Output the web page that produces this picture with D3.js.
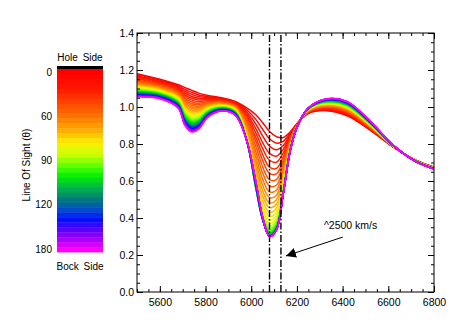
<!DOCTYPE html>
<html><head><meta charset="utf-8">
<script src="https://cdn.jsdelivr.net/npm/d3@7"></script>
<style>body{margin:0;background:#fff}svg{display:block}text{font-family:"Liberation Sans",Arial,sans-serif;fill:#000}</style>
</head><body><svg id="c" width="457" height="326"></svg>
<script>
const wavelengths = [5500,5600,5680,5710,5740,5770,5810,5870,5930,5980,6020,6050,6080,6110,6140,6170,6200,6250,6330,6420,6520,6620,6720,6800];
const angles = [0,5,10,15,20,25,30,35,40,45,50,55,60,65,70,75,80,85,90,95,100,105,110,115,120,125,130,135,140,145,150,155,160,165,170,175,180];
const f000 = [1.180,1.150,1.120,1.105,1.090,1.075,1.062,1.050,1.030,0.995,0.958,0.915,0.868,0.840,0.835,0.865,0.910,0.965,0.980,0.952,0.875,0.785,0.712,0.675];
const f005 = [1.174,1.145,1.114,1.095,1.079,1.065,1.056,1.046,1.026,0.985,0.933,0.879,0.828,0.805,0.814,0.858,0.909,0.967,0.983,0.956,0.878,0.786,0.712,0.675];
const f010 = [1.168,1.140,1.108,1.085,1.068,1.056,1.051,1.043,1.023,0.974,0.908,0.844,0.789,0.769,0.792,0.850,0.907,0.969,0.987,0.960,0.880,0.786,0.711,0.674];
const f015 = [1.162,1.135,1.102,1.075,1.057,1.047,1.045,1.040,1.019,0.964,0.883,0.808,0.749,0.734,0.771,0.843,0.906,0.970,0.989,0.963,0.882,0.786,0.711,0.674];
const f020 = [1.156,1.130,1.096,1.066,1.047,1.038,1.040,1.036,1.016,0.954,0.860,0.775,0.712,0.701,0.751,0.836,0.905,0.972,0.992,0.967,0.885,0.787,0.711,0.673];
const f025 = [1.151,1.125,1.091,1.057,1.037,1.029,1.035,1.033,1.012,0.945,0.836,0.742,0.675,0.668,0.731,0.829,0.903,0.974,0.995,0.970,0.887,0.787,0.710,0.673];
const f030 = [1.145,1.121,1.085,1.048,1.027,1.020,1.029,1.030,1.009,0.936,0.815,0.711,0.641,0.638,0.713,0.823,0.902,0.975,0.998,0.974,0.889,0.788,0.710,0.672];
const f035 = [1.140,1.116,1.080,1.039,1.018,1.013,1.024,1.027,1.006,0.924,0.788,0.677,0.607,0.608,0.695,0.817,0.901,0.977,1.001,0.977,0.891,0.788,0.710,0.672];
const f040 = [1.135,1.112,1.075,1.031,1.009,1.005,1.020,1.024,1.003,0.912,0.760,0.643,0.573,0.577,0.676,0.810,0.900,0.978,1.003,0.980,0.893,0.789,0.709,0.671];
const f045 = [1.130,1.108,1.070,1.023,1.000,0.997,1.015,1.021,1.000,0.900,0.732,0.610,0.541,0.550,0.660,0.805,0.899,0.980,1.006,0.983,0.895,0.789,0.709,0.671];
const f050 = [1.126,1.104,1.066,1.016,0.992,0.990,1.011,1.019,0.997,0.888,0.704,0.577,0.510,0.522,0.643,0.799,0.897,0.981,1.008,0.986,0.897,0.789,0.709,0.671];
const f055 = [1.121,1.101,1.061,1.008,0.984,0.984,1.007,1.016,0.995,0.876,0.679,0.547,0.482,0.497,0.628,0.794,0.896,0.982,1.011,0.989,0.899,0.790,0.709,0.670];
const f060 = [1.117,1.097,1.057,1.001,0.976,0.977,1.003,1.014,0.992,0.865,0.654,0.519,0.456,0.474,0.614,0.789,0.896,0.984,1.013,0.991,0.900,0.790,0.708,0.670];
const f065 = [1.113,1.093,1.053,0.995,0.969,0.970,0.999,1.011,0.990,0.855,0.632,0.492,0.431,0.451,0.600,0.784,0.895,0.985,1.015,0.994,0.902,0.790,0.708,0.670];
const f070 = [1.109,1.090,1.049,0.988,0.962,0.964,0.995,1.009,0.987,0.846,0.612,0.468,0.408,0.431,0.588,0.780,0.894,0.986,1.017,0.997,0.904,0.791,0.708,0.669];
const f075 = [1.105,1.087,1.045,0.982,0.955,0.958,0.992,1.007,0.985,0.839,0.596,0.448,0.388,0.413,0.577,0.776,0.893,0.987,1.019,0.999,0.905,0.791,0.708,0.669];
const f080 = [1.101,1.084,1.041,0.976,0.948,0.952,0.989,1.005,0.983,0.832,0.583,0.431,0.371,0.398,0.568,0.773,0.893,0.988,1.021,1.001,0.907,0.791,0.708,0.669];
const f085 = [1.098,1.081,1.038,0.970,0.942,0.947,0.985,1.003,0.981,0.828,0.574,0.419,0.357,0.386,0.561,0.771,0.892,0.988,1.023,1.004,0.908,0.792,0.707,0.668];
const f090 = [1.094,1.078,1.034,0.965,0.936,0.941,0.982,1.001,0.979,0.825,0.569,0.410,0.345,0.375,0.554,0.768,0.892,0.989,1.025,1.005,0.909,0.792,0.707,0.668];
const f095 = [1.091,1.075,1.031,0.959,0.930,0.937,0.979,0.999,0.977,0.822,0.566,0.403,0.336,0.367,0.549,0.767,0.891,0.990,1.026,1.007,0.911,0.792,0.707,0.668];
const f100 = [1.088,1.073,1.028,0.955,0.925,0.931,0.976,0.997,0.975,0.821,0.564,0.398,0.328,0.360,0.545,0.765,0.891,0.990,1.028,1.009,0.912,0.792,0.707,0.668];
const f105 = [1.085,1.070,1.025,0.949,0.919,0.927,0.974,0.995,0.973,0.820,0.564,0.394,0.322,0.354,0.542,0.764,0.891,0.991,1.029,1.011,0.913,0.793,0.707,0.667];
const f110 = [1.083,1.068,1.023,0.946,0.915,0.923,0.970,0.994,0.972,0.819,0.564,0.392,0.317,0.350,0.539,0.763,0.891,0.991,1.031,1.013,0.914,0.793,0.707,0.667];
const f115 = [1.080,1.066,1.020,0.941,0.910,0.919,0.968,0.992,0.970,0.818,0.566,0.391,0.312,0.346,0.537,0.762,0.890,0.992,1.032,1.014,0.915,0.793,0.706,0.667];
const f120 = [1.078,1.064,1.018,0.937,0.906,0.916,0.966,0.991,0.969,0.819,0.569,0.391,0.309,0.343,0.535,0.762,0.890,0.992,1.033,1.016,0.916,0.793,0.706,0.667];
const f125 = [1.075,1.062,1.015,0.933,0.901,0.911,0.963,0.990,0.967,0.819,0.571,0.391,0.307,0.341,0.534,0.761,0.890,0.992,1.035,1.018,0.917,0.793,0.706,0.667];
const f130 = [1.073,1.060,1.013,0.929,0.897,0.908,0.961,0.988,0.966,0.819,0.575,0.393,0.305,0.340,0.533,0.761,0.890,0.993,1.036,1.019,0.918,0.794,0.706,0.666];
const f135 = [1.071,1.058,1.011,0.926,0.893,0.905,0.960,0.987,0.964,0.819,0.578,0.394,0.303,0.338,0.532,0.761,0.890,0.993,1.037,1.020,0.919,0.794,0.706,0.666];
const f140 = [1.069,1.057,1.009,0.923,0.890,0.901,0.958,0.986,0.963,0.820,0.581,0.395,0.302,0.337,0.531,0.760,0.890,0.993,1.038,1.021,0.920,0.794,0.706,0.666];
const f145 = [1.067,1.055,1.007,0.919,0.886,0.899,0.956,0.985,0.962,0.821,0.585,0.397,0.302,0.337,0.531,0.760,0.890,0.994,1.039,1.023,0.920,0.794,0.706,0.666];
const f150 = [1.065,1.053,1.005,0.916,0.883,0.896,0.954,0.984,0.961,0.821,0.589,0.399,0.301,0.336,0.531,0.760,0.890,0.994,1.040,1.024,0.921,0.794,0.706,0.666];
const f155 = [1.063,1.052,1.003,0.914,0.880,0.892,0.953,0.983,0.960,0.821,0.591,0.400,0.301,0.336,0.530,0.760,0.890,0.994,1.041,1.025,0.922,0.794,0.705,0.666];
const f160 = [1.061,1.050,1.001,0.910,0.876,0.890,0.951,0.982,0.959,0.821,0.594,0.402,0.301,0.336,0.530,0.760,0.890,0.994,1.042,1.026,0.923,0.795,0.705,0.666];
const f165 = [1.060,1.049,1.000,0.908,0.874,0.888,0.950,0.981,0.958,0.821,0.596,0.403,0.300,0.335,0.530,0.760,0.890,0.994,1.043,1.027,0.923,0.795,0.705,0.665];
const f170 = [1.058,1.048,0.998,0.906,0.871,0.885,0.948,0.980,0.957,0.821,0.598,0.404,0.300,0.335,0.530,0.760,0.890,0.995,1.043,1.028,0.924,0.795,0.705,0.665];
const f175 = [1.057,1.046,0.996,0.902,0.868,0.882,0.946,0.979,0.956,0.820,0.599,0.405,0.300,0.335,0.530,0.760,0.890,0.995,1.044,1.029,0.924,0.795,0.705,0.665];
const f180 = [1.055,1.045,0.995,0.900,0.865,0.880,0.945,0.978,0.955,0.820,0.600,0.405,0.300,0.335,0.530,0.760,0.890,0.995,1.045,1.030,0.925,0.795,0.705,0.665];
const series = [f000,f005,f010,f015,f020,f025,f030,f035,f040,f045,f050,f055,f060,f065,f070,f075,f080,f085,f090,f095,f100,f105,f110,f115,f120,f125,f130,f135,f140,f145,f150,f155,f160,f165,f170,f175,f180];

const xMajorTicks = [5600,5800,6000,6200,6400,6600,6800];
const yMajorTicks = [0,0.2,0.4,0.6,0.8,1.0,1.2,1.4];
const colorbarLabels = ["0","60","90","120","180"];
const markerLines = [6080,6130];
const annotationText = "^2500 km/s";
const colorStops = [[0.00,"#ff0000"],[0.10,"#ff1800"],[0.26,"#ff7800"],[0.33,"#ffaa00"],[0.40,"#ffee00"],[0.47,"#c8ff00"],[0.53,"#60ff00"],[0.59,"#00f000"],[0.65,"#00b848"],[0.72,"#007a7a"],[0.78,"#0048d0"],[0.83,"#0010ff"],[0.90,"#6a00ff"],[1.00,"#ff00ff"]];

const svg = d3.select("#c");
const M = {l:137, r:434, t:33, b:292};
const x = d3.scaleLinear().domain([5500,6800]).range([M.l, M.r]);
const y = d3.scaleLinear().domain([0,1.4]).range([M.b, M.t]);
const col = d3.scaleLinear().domain(colorStops.map(d=>d[0])).range(colorStops.map(d=>d[1])).interpolate(d3.interpolateRgb);
const aScale = d3.scaleLinear().domain([0,180]).range([0,1]);

svg.append("defs").append("clipPath").attr("id","clip").append("rect")
  .attr("x",M.l).attr("y",M.t).attr("width",M.r-M.l).attr("height",M.b-M.t);

const line = d3.line().x((d,i)=>x(wavelengths[i])).y(d=>y(d)).curve(d3.curveCatmullRom.alpha(0.5));
const gC = svg.append("g").attr("clip-path","url(#clip)");
series.forEach((s,k)=>{
  gC.append("path").attr("d", line(s)).attr("fill","none")
    .attr("stroke", col(aScale(angles[k]))).attr("stroke-width",1.5);
});

svg.selectAll(".mk").data(markerLines).enter().append("line")
  .attr("x1",d=>x(d)).attr("x2",d=>x(d)).attr("y1",y(0)).attr("y2",y(1.4))
  .attr("stroke","#000").attr("stroke-width",1.4).attr("stroke-dasharray","7,2,1.5,2");

svg.append("rect").attr("x",M.l).attr("y",M.t).attr("width",M.r-M.l).attr("height",M.b-M.t)
  .attr("fill","none").attr("stroke","#000").attr("stroke-width",1);

const xMinor = d3.range(5500,6801,50);
const yMinor = d3.range(0,1.401,0.05);
function styleAxis(g){ g.select(".domain").remove(); g.selectAll("line").attr("stroke","#000"); g.selectAll("text").style("font-size","10.5px").attr("fill","#000"); }
svg.append("g").attr("transform",`translate(0,${M.b})`).call(d3.axisBottom(x).tickValues(xMinor).tickSize(-3).tickFormat("")).call(styleAxis);
svg.append("g").attr("transform",`translate(0,${M.b})`).call(d3.axisBottom(x).tickValues(xMajorTicks).tickSize(-6).tickPadding(7).tickFormat(d3.format("d"))).call(styleAxis);
svg.append("g").attr("transform",`translate(0,${M.t})`).call(d3.axisTop(x).tickValues(xMinor).tickSize(-3).tickFormat("")).call(styleAxis);
svg.append("g").attr("transform",`translate(0,${M.t})`).call(d3.axisTop(x).tickValues(xMajorTicks).tickSize(-6).tickFormat("")).call(styleAxis);
svg.append("g").attr("transform",`translate(${M.l},0)`).call(d3.axisLeft(y).tickValues(yMinor).tickSize(-3).tickFormat("")).call(styleAxis);
svg.append("g").attr("transform",`translate(${M.l},0)`).call(d3.axisLeft(y).tickValues(yMajorTicks).tickSize(-6).tickPadding(3).tickFormat(d3.format(".1f"))).call(styleAxis);
svg.append("g").attr("transform",`translate(${M.r},0)`).call(d3.axisRight(y).tickValues(yMinor).tickSize(-3).tickFormat("")).call(styleAxis);
svg.append("g").attr("transform",`translate(${M.r},0)`).call(d3.axisRight(y).tickValues(yMajorTicks).tickSize(-6).tickFormat("")).call(styleAxis);

const defs = svg.select("defs");
defs.append("marker").attr("id","ah").attr("viewBox","0 0 10 10").attr("refX",10).attr("refY",5)
  .attr("markerWidth",10).attr("markerHeight",10).attr("markerUnits","userSpaceOnUse").attr("orient","auto")
  .append("path").attr("d","M0,0L10,5L0,10Z").attr("fill","#000");
svg.append("line").attr("x1",x(6401)).attr("y1",y(0.297)).attr("x2",x(6152)).attr("y2",y(0.195))
  .attr("stroke","#000").attr("stroke-width",1).attr("marker-end","url(#ah)");
svg.append("text").attr("x",x(6318)).attr("y",y(0.34)).style("font-size","10.5px").text(annotationText);

const cb = {x:57, w:46, top:69, bottom:252};
const cbY = d3.scaleBand().domain(angles).range([cb.top, cb.bottom]);
svg.append("rect").attr("x",cb.x).attr("y",cb.top-3).attr("width",cb.w).attr("height",3).attr("fill","#000");
svg.selectAll(".cb").data(angles).enter().append("rect")
  .attr("x",cb.x).attr("y",d=>cbY(d)).attr("width",cb.w).attr("height",cbY.bandwidth()+0.4)
  .attr("fill",d=>col(aScale(d)));
const cbL = d3.scalePoint().domain(colorbarLabels).range([72,249]);
svg.selectAll(".cbl").data(colorbarLabels).enter().append("text")
  .attr("x",52).attr("y",d=>cbL(d)).attr("dy","0.35em").attr("text-anchor","end").style("font-size","10px").text(d=>d);
svg.append("text").attr("x",cb.x+cb.w/2).attr("y",61).attr("text-anchor","middle").style("font-size","10px").style("word-spacing","2px").text("Hole Side");
svg.append("text").attr("x",cb.x+cb.w/2).attr("y",270).attr("text-anchor","middle").style("font-size","10px").style("word-spacing","2px").text("Bock Side");
svg.append("text").attr("transform","translate(30,165) rotate(-90)").attr("text-anchor","middle").style("font-size","10px").text("Line Of Sight (θ)");
</script></body></html>
